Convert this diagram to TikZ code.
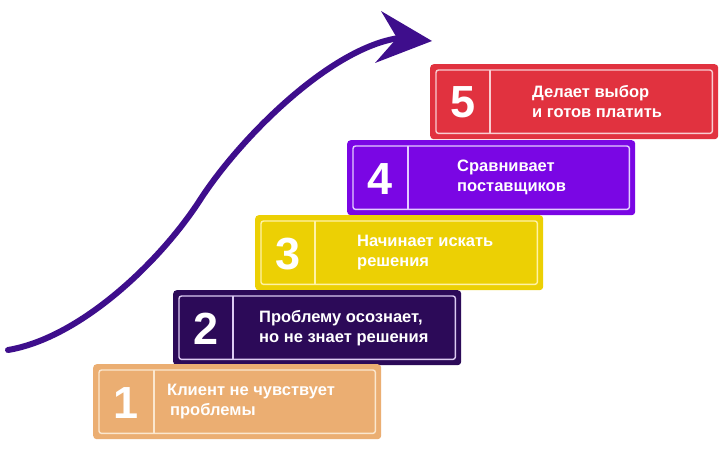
\documentclass[tikz,border=0pt]{standalone}
\usepackage{fontspec}
\setmainfont{Liberation Sans}
\definecolor{cA}{HTML}{EBAE72}
\definecolor{lA}{HTML}{FBE7CF}
\definecolor{cB}{HTML}{2C0A58}
\definecolor{lB}{HTML}{DCCBF2}
\definecolor{cC}{HTML}{ECD004}
\definecolor{lC}{HTML}{FFF2A6}
\definecolor{cD}{HTML}{7A06E4}
\definecolor{lD}{HTML}{E3CCFF}
\definecolor{cE}{HTML}{E1323F}
\definecolor{lE}{HTML}{F9CDD1}
\definecolor{arrowc}{HTML}{3E0E8C}
\tikzset{
  outerbox/.style={draw=none, fill=#1, rounded corners=3.5pt, minimum width=288pt, minimum height=75pt, anchor=north west, inner sep=0pt},
  innerline/.style={draw=#1, line width=1.4pt},
  numtxt/.style={font=\bfseries\fontsize{45}{45}\selectfont, text=white, inner sep=0pt},
  boxtxt/.style={font=\bfseries\fontsize{16.5}{20}\selectfont, text=white, align=left, anchor=west, inner sep=0pt},
}
% #1 name, #2 x, #3 y, #4 fill, #5 line colour, #6 divider offset, #7 number, #8 text offset, #9 text
\newcommand\stairbox[9]{%
  \node[outerbox=#4] (#1) at (#2,#3) {};
  \draw[innerline=#5, rounded corners=2.5pt] ([shift={(6pt,-6pt)}]#1.north west) rectangle ([shift={(-6pt,6pt)}]#1.south east);
  \draw[innerline=#5] ([shift={(#6pt,-6pt)}]#1.north west) coordinate (#1dt) -- ([shift={(#6pt,6pt)}]#1.south west) coordinate (#1db);
  \node[numtxt] (#1n) at ([xshift={(#6pt+6pt)/2}, yshift=-1pt]#1.west) {#7};
  \node[boxtxt] (#1t) at ([xshift=#8pt]#1.west) {#9};
}
\begin{document}
\begin{tikzpicture}[x=1pt,y=-1pt]
\useasboundingbox[fill=white] (0,0) rectangle (724,449);
% arrow
\draw[arrowc, line width=6pt, line cap=round] (8,350) .. controls (80,338) and (160,262) .. (200,200) .. controls (240,138) and (330,48) .. (399,38) coordinate (arrend);
\fill[arrowc] (432,41) -- (381,11) -- (397,38) -- (375,63) -- cycle;
% boxes
\stairbox{s5}{430}{64}{cE}{lE}{60}{5}{102}{Делает выбор\\и готов платить}
\stairbox{s4}{347}{140}{cD}{lD}{61}{4}{110}{Сравнивает\\поставщиков}
\stairbox{s3}{255}{215}{cC}{lC}{60}{3}{102}{Начинает искать\\решения}
\stairbox{s2}{173}{290}{cB}{lB}{60}{2}{86}{Проблему осознает,\\но не знает решения}
\stairbox{s1}{93}{364}{cA}{lA}{61}{1}{74}{Клиент не чувствует\\\hspace*{3pt}проблемы}
\end{tikzpicture}
\end{document}
